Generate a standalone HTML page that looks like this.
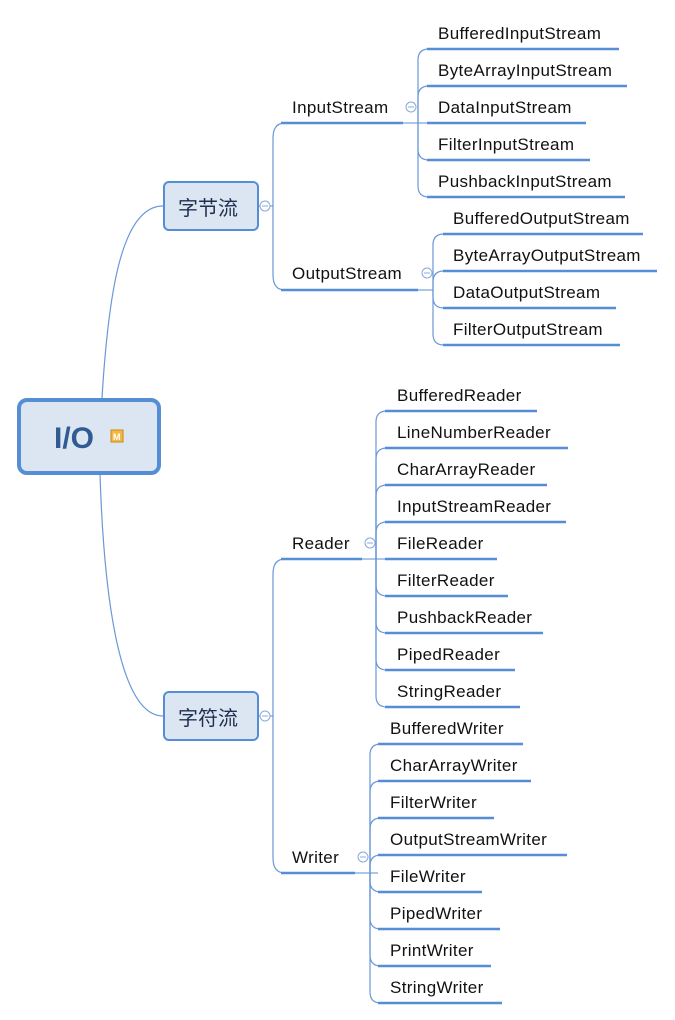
<!DOCTYPE html>
<html><head><meta charset="utf-8"><style>
body{margin:0;background:#fff;width:675px;height:1020px;overflow:hidden}
svg{display:block}
text{font-family:"Liberation Sans","Noto Sans CJK SC",sans-serif;font-size:17px;letter-spacing:0.35px;fill:#111}
.c{fill:none;stroke:#6a98d8;stroke-width:1.2}
.u{stroke:#558ed5;stroke-width:2.6}
.t{stroke:#558ed5;stroke-width:1}
.k{fill:#fff;stroke:#8aa8d8;stroke-width:1}
.m{stroke:#8aa8d8;stroke-width:1}
</style></head><body>
<svg width="675" height="1020" viewBox="0 0 675 1020">
<path class="c" d="M102,398 C108,300 120,206 163,206"/>
<path class="c" d="M100,474 C104,600 120,716 163,716"/>
<rect x="19" y="400" width="140" height="73" rx="8" fill="#dce6f2" stroke="#558ed5" stroke-width="4"/>
<text x="54" y="448" style="font-size:30px;letter-spacing:0;font-weight:bold;fill:#2f5a92">I/O</text>
<rect x="111" y="430" width="12" height="12" fill="#f5b942" stroke="#c88a1a"/>
<text x="113" y="440" style="font-size:9px;letter-spacing:0;font-weight:bold;fill:#fff">M</text>

<rect x="164" y="182" width="94" height="48" rx="5" fill="#dce6f2" stroke="#558ed5" stroke-width="2"/>
<text x="178" y="215" style="font-size:20px;letter-spacing:0;fill:#1f2f4f">字节流</text>
<line class="t" x1="258" y1="206" x2="273" y2="206"/>
<path class="c" d="M273,206 L273,138 Q273,123 285,123"/>
<path class="c" d="M273,206 L273,275 Q273,290 285,290"/>
<circle class="k" cx="265" cy="206" r="5"/><line class="m" x1="262" y1="206" x2="268" y2="206"/>

<rect x="164" y="692" width="94" height="48" rx="5" fill="#dce6f2" stroke="#558ed5" stroke-width="2"/>
<text x="178" y="725" style="font-size:20px;letter-spacing:0;fill:#1f2f4f">字符流</text>
<line class="t" x1="258" y1="716" x2="273" y2="716"/>
<path class="c" d="M273,716 L273,574 Q273,559 285,559"/>
<path class="c" d="M273,716 L273,858 Q273,873 285,873"/>
<circle class="k" cx="265" cy="716" r="5"/><line class="m" x1="262" y1="716" x2="268" y2="716"/>

<line class="u" x1="281" y1="123" x2="403" y2="123"/>
<text x="292" y="113">InputStream</text>
<line class="t" x1="403" y1="123" x2="427" y2="123"/>
<circle class="k" cx="411" cy="107" r="5"/><line class="m" x1="408" y1="107" x2="414" y2="107"/>
<path class="c" d="M418,123 L418,60 Q418,49 429,49"/>
<path class="c" d="M418,123 L418,97 Q418,86 429,86"/>
<path class="c" d="M418,123 L418,149 Q418,160 429,160"/>
<path class="c" d="M418,123 L418,186 Q418,197 429,197"/>
<line class="u" x1="427" y1="49" x2="619" y2="49"/><text x="438" y="39">BufferedInputStream</text>
<line class="u" x1="427" y1="86" x2="627" y2="86"/><text x="438" y="76">ByteArrayInputStream</text>
<line class="u" x1="427" y1="123" x2="586" y2="123"/><text x="438" y="113">DataInputStream</text>
<line class="u" x1="427" y1="160" x2="590" y2="160"/><text x="438" y="150">FilterInputStream</text>
<line class="u" x1="427" y1="197" x2="625" y2="197"/><text x="438" y="187">PushbackInputStream</text>

<line class="u" x1="281" y1="290" x2="418" y2="290"/>
<text x="292" y="279">OutputStream</text>
<line class="t" x1="418" y1="290" x2="433" y2="290"/>
<circle class="k" cx="427" cy="273" r="5"/><line class="m" x1="424" y1="273" x2="430" y2="273"/>
<path class="c" d="M433,290 L433,245 Q433,234 444,234"/>
<path class="c" d="M433,290 L433,282 Q433,271 444,271"/>
<path class="c" d="M433,290 L433,297 Q433,308 444,308"/>
<path class="c" d="M433,290 L433,334 Q433,345 444,345"/>
<line class="u" x1="443" y1="234" x2="643" y2="234"/><text x="453" y="224">BufferedOutputStream</text>
<line class="u" x1="443" y1="271" x2="657" y2="271"/><text x="453" y="261">ByteArrayOutputStream</text>
<line class="u" x1="443" y1="308" x2="616" y2="308"/><text x="453" y="298">DataOutputStream</text>
<line class="u" x1="443" y1="345" x2="620" y2="345"/><text x="453" y="335">FilterOutputStream</text>

<line class="u" x1="281" y1="559" x2="362" y2="559"/>
<text x="292" y="549">Reader</text>
<line class="t" x1="362" y1="559" x2="385" y2="559"/>
<circle class="k" cx="370" cy="543" r="5"/><line class="m" x1="367" y1="543" x2="373" y2="543"/>
<path class="c" d="M376,559 L376,422 Q376,411 387,411"/>
<path class="c" d="M376,559 L376,459 Q376,448 387,448"/>
<path class="c" d="M376,559 L376,496 Q376,485 387,485"/>
<path class="c" d="M376,559 L376,533 Q376,522 387,522"/>
<path class="c" d="M376,559 L376,585 Q376,596 387,596"/>
<path class="c" d="M376,559 L376,622 Q376,633 387,633"/>
<path class="c" d="M376,559 L376,659 Q376,670 387,670"/>
<path class="c" d="M376,559 L376,696 Q376,707 387,707"/>
<line class="u" x1="385" y1="411" x2="537" y2="411"/><text x="397" y="401">BufferedReader</text>
<line class="u" x1="385" y1="448" x2="568" y2="448"/><text x="397" y="438">LineNumberReader</text>
<line class="u" x1="385" y1="485" x2="547" y2="485"/><text x="397" y="475">CharArrayReader</text>
<line class="u" x1="385" y1="522" x2="566" y2="522"/><text x="397" y="512">InputStreamReader</text>
<line class="u" x1="385" y1="559" x2="497" y2="559"/><text x="397" y="549">FileReader</text>
<line class="u" x1="385" y1="596" x2="508" y2="596"/><text x="397" y="586">FilterReader</text>
<line class="u" x1="385" y1="633" x2="543" y2="633"/><text x="397" y="623">PushbackReader</text>
<line class="u" x1="385" y1="670" x2="515" y2="670"/><text x="397" y="660">PipedReader</text>
<line class="u" x1="385" y1="707" x2="520" y2="707"/><text x="397" y="697">StringReader</text>

<line class="u" x1="281" y1="873" x2="355" y2="873"/>
<text x="292" y="863">Writer</text>
<line class="t" x1="355" y1="873" x2="378" y2="873"/>
<circle class="k" cx="363" cy="857" r="5"/><line class="m" x1="360" y1="857" x2="366" y2="857"/>
<path class="c" d="M370,873 L370,755 Q370,744 381,744"/>
<path class="c" d="M370,873 L370,792 Q370,781 381,781"/>
<path class="c" d="M370,873 L370,829 Q370,818 381,818"/>
<path class="c" d="M370,873 L370,866 Q370,855 381,855"/>
<path class="c" d="M370,873 L370,881 Q370,892 381,892"/>
<path class="c" d="M370,873 L370,918 Q370,929 381,929"/>
<path class="c" d="M370,873 L370,955 Q370,966 381,966"/>
<path class="c" d="M370,873 L370,992 Q370,1003 381,1003"/>
<line class="u" x1="378" y1="744" x2="523" y2="744"/><text x="390" y="734">BufferedWriter</text>
<line class="u" x1="378" y1="781" x2="531" y2="781"/><text x="390" y="771">CharArrayWriter</text>
<line class="u" x1="378" y1="818" x2="494" y2="818"/><text x="390" y="808">FilterWriter</text>
<line class="u" x1="378" y1="855" x2="567" y2="855"/><text x="390" y="845">OutputStreamWriter</text>
<line class="u" x1="378" y1="892" x2="482" y2="892"/><text x="390" y="882">FileWriter</text>
<line class="u" x1="378" y1="929" x2="500" y2="929"/><text x="390" y="919">PipedWriter</text>
<line class="u" x1="378" y1="966" x2="491" y2="966"/><text x="390" y="956">PrintWriter</text>
<line class="u" x1="378" y1="1003" x2="502" y2="1003"/><text x="390" y="993">StringWriter</text>
</svg>
</body></html>
